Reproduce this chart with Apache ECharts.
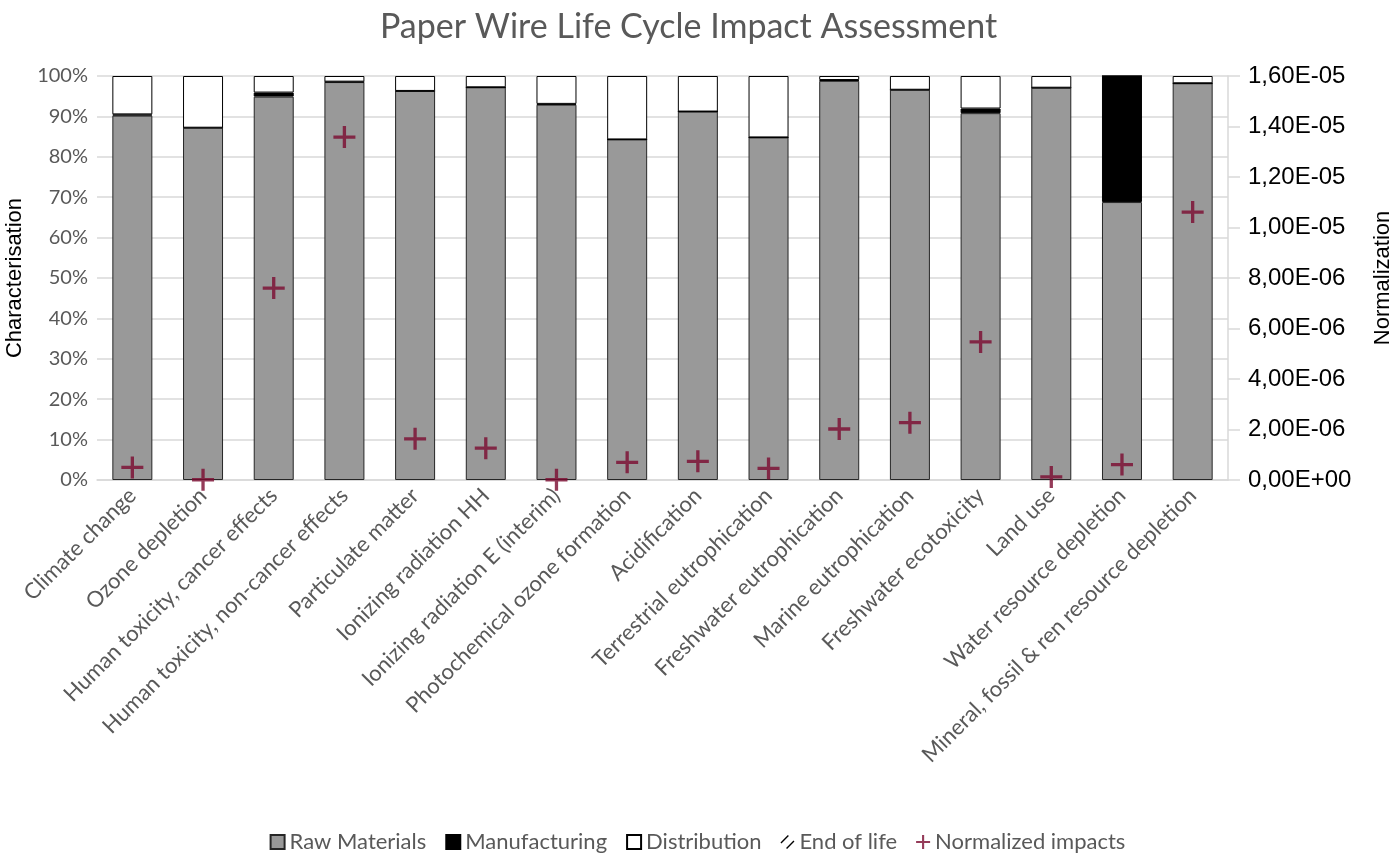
<!DOCTYPE html>
<html lang="en">
<head>
<meta charset="UTF-8">
<title>Paper Wire Life Cycle Impact Assessment</title>
<script src="https://cdn.jsdelivr.net/npm/echarts@6/dist/echarts.min.js"></script>
<style>
  html, body { margin: 0; padding: 0; background: #fff; }
  #main { width: 1395px; height: 854px; }
</style>
</head>
<body>
<div id="main"></div>
<script>
// impact categories
var categories = [
  'Climate change', 'Ozone depletion', 'Human toxicity, cancer effects',
  'Human toxicity, non-cancer effects', 'Particulate matter', 'Ionizing radiation HH',
  'Ionizing radiation E (interim)', 'Photochemical ozone formation', 'Acidification',
  'Terrestrial eutrophication', 'Freshwater eutrophication', 'Marine eutrophication',
  'Freshwater ecotoxicity', 'Land use', 'Water resource depletion',
  'Mineral, fossil & ren resource depletion'
];

// characterisation shares (%)
var rawMaterials  = [90.2, 87.2, 94.9, 98.5, 96.3, 97.2, 92.9, 84.3, 91.2, 84.8, 98.8, 96.6, 90.8, 97.1, 68.8, 98.2];
var manufacturing = [0.3, 0, 1.0, 0.1, 0, 0, 0.2, 0, 0, 0, 0.2, 0, 1.15, 0, 31.2, 0];
var distribution  = [9.5, 12.8, 4.1, 1.4, 3.7, 2.8, 6.9, 15.7, 8.8, 15.2, 1.0, 3.4, 8.05, 2.9, 0, 1.8];
var endOfLife     = [0, 0, 0, 0, 0, 0, 0, 0, 0, 0, 0, 0, 0, 0, 0, 0];

// normalized impacts (right axis)
var normalized = [5.0e-7, 1e-8, 7.6e-6, 1.358e-5, 1.63e-6, 1.26e-6, 1e-8, 7.0e-7, 7.4e-7,
  4.6e-7, 2.02e-6, 2.27e-6, 5.47e-6, 1.2e-7, 6.1e-7, 1.061e-5];

var gray = '#595959';
var plusPath = 'path://M4.25,0 H5.75 V4.25 H10 V5.75 H5.75 V10 H4.25 V5.75 H0 V4.25 H4.25 Z';
var hatchPath = 'path://M0,5.3 L5.3,0 L6,0.7 L0.7,6 Z M4,9.3 L9.3,4 L10,4.7 L4.7,10 Z';

function sciComma(v) {
  var s = Number(v).toExponential(2);   // e.g. 1.60e-5
  var parts = s.split('e');
  var exp = parseInt(parts[1], 10);
  var sign = exp < 0 ? '-' : '+';
  var e = Math.abs(exp);
  return parts[0].replace('.', ',') + 'E' + sign + (e < 10 ? '0' + e : e);
}

var chart = echarts.init(document.getElementById('main'));

chart.setOption({
  animation: false,
  backgroundColor: '#fff',
  title: {
    text: 'Paper Wire Life Cycle Impact Assessment',
    left: 375,
    top: 5,
    textStyle: { fontFamily: 'Lato', fontSize: 34, fontWeight: 'normal', color: gray }
  },
  legend: {
    bottom: -4,
    left: 'center',
    itemWidth: 14,
    itemHeight: 14,
    itemGap: 19,
    textStyle: { fontFamily: 'Lato', fontSize: 22, color: gray },
    data: [
      { name: 'Raw Materials', icon: 'rect' },
      { name: 'Manufacturing', icon: 'rect' },
      { name: 'Distribution', icon: 'rect' },
      { name: 'End of life', icon: hatchPath, itemStyle: { color: '#000', borderWidth: 0 } },
      { name: 'Normalized impacts', icon: plusPath }
    ]
  },
  grid: { left: 97, right: 167, top: 76, bottom: 374, outerBoundsMode: 'none' },
  xAxis: {
    type: 'category',
    data: categories,
    axisLine: { lineStyle: { color: '#d9d9d9', width: 1.5 } },
    axisTick: { show: false },
    axisLabel: {
      interval: 0,
      rotate: 45,
      margin: 12,
      fontFamily: 'Lato',
      fontSize: 22,
      color: gray
    }
  },
  yAxis: [
    {
      type: 'value',
      min: 0,
      max: 100,
      interval: 10,
      name: 'Characterisation',
      nameLocation: 'middle',
      nameRotate: 90,
      nameGap: 55,
      nameTextStyle: { fontFamily: 'Liberation Sans', fontSize: 22, color: '#000' },
      axisLine: { show: false },
      axisTick: { show: false },
      axisLabel: { formatter: '{value}%', fontFamily: 'Lato', fontSize: 20, color: gray, margin: 9 },
      splitLine: { lineStyle: { color: '#d9d9d9', width: 1.5 } }
    },
    {
      type: 'value',
      min: 0,
      max: 1.6e-5,
      interval: 2e-6,
      position: 'right',
      name: 'Normalization',
      nameLocation: 'middle',
      nameRotate: 90,
      nameGap: 144,
      nameTextStyle: { fontFamily: 'Liberation Sans', fontSize: 22, color: '#000' },
      axisLine: { show: true, lineStyle: { color: '#d9d9d9', width: 1.5 } },
      axisTick: { show: true, length: 12, lineStyle: { color: '#d9d9d9', width: 1.5 } },
      axisLabel: {
        formatter: sciComma,
        fontFamily: 'Liberation Sans',
        fontSize: 24,
        color: '#000',
        margin: 20
      },
      splitLine: { show: false }
    }
  ],
  series: [
    {
      name: 'Raw Materials',
      type: 'bar',
      stack: 'share',
      barWidth: 40,
      data: rawMaterials,
      itemStyle: { color: '#999999', borderColor: '#262626', borderWidth: 1 }
    },
    {
      name: 'Manufacturing',
      type: 'bar',
      stack: 'share',
      data: manufacturing,
      itemStyle: { color: '#000000', borderColor: '#000', borderWidth: 1 }
    },
    {
      name: 'Distribution',
      type: 'bar',
      stack: 'share',
      data: distribution,
      itemStyle: { color: '#ffffff', borderColor: '#000', borderWidth: 1 }
    },
    {
      name: 'End of life',
      type: 'bar',
      stack: 'share',
      data: endOfLife,
      itemStyle: { color: '#000', borderWidth: 0 }
    },
    {
      name: 'Normalized impacts',
      type: 'scatter',
      yAxisIndex: 1,
      symbol: plusPath,
      symbolSize: 22,
      data: normalized,
      itemStyle: { color: '#7a0a30' },
      z: 5
    }
  ]
});
</script>
</body>
</html>
